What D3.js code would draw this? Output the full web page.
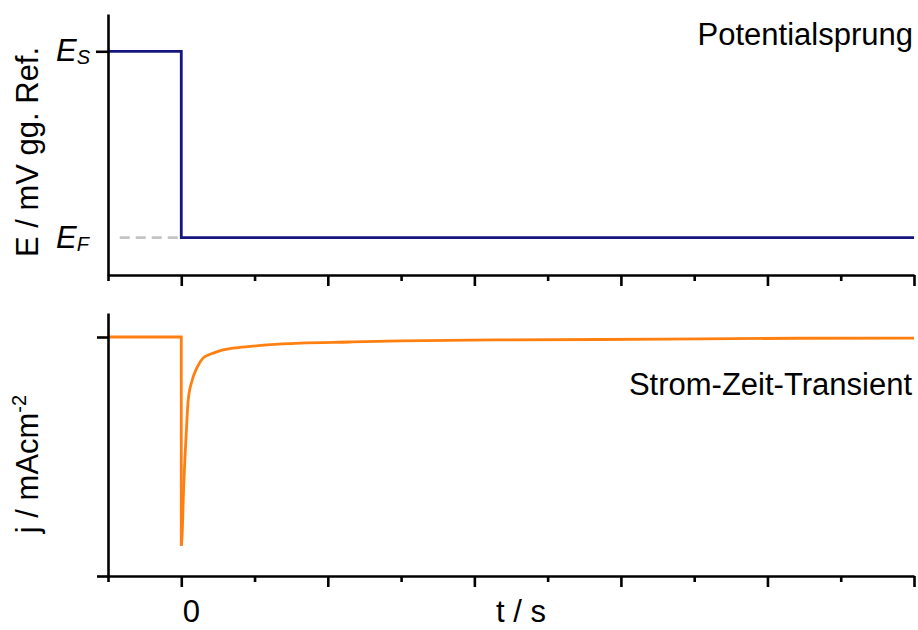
<!DOCTYPE html>
<html>
<head>
<meta charset="utf-8">
<script src="https://cdn.jsdelivr.net/npm/d3@7"></script>
<style>
  html, body { margin: 0; padding: 0; background: #fff; }
  svg { display: block; font-family: "Liberation Sans", Arial, sans-serif; }
</style>
</head>
<body>
<svg id="chart" width="918" height="630"></svg>
<script>
// Time axis (s)
const timeDomain = [-1, 10];
const majorTicks = [0, 2, 4, 6, 8, 10];
const minorTicks = [-1, 1, 3, 5, 7, 9];
const timeLabels = [{ t: 0, text: "0" }];

// Potential step (arbitrary units: E_F = 0, E_S = 1)
const potentialLevels = { ES: 1, EF: 0 };
const potentialDomain = [-0.2, 1.2];
const potentialT = [-1, 0, 0, 10];
const potentialE = [1, 1, 0, 0];
const guideT = [-0.84, 0];

// Current transient (normalised to the peak)
const currentDomain = [-1.145, 0.115];
const currentTicks = [0, -1.145];
const preStepT = [-1, 0, 0];
const preStepJ = [0, 0, -1];
const transientT = [0, 0.0136, 0.027, 0.068, 0.095, 0.15, 0.218, 0.30, 0.37, 0.437, 0.57, 0.71, 0.94, 1.17, 1.62, 2.3, 2.99, 4.35, 5.72, 7.08, 8.44, 10];
const transientJ = [-1, -0.938, -0.78, -0.459, -0.301, -0.206, -0.144, -0.100, -0.086, -0.077, -0.062, -0.053, -0.045, -0.038, -0.029, -0.024, -0.019, -0.014, -0.012, -0.009, -0.006, -0.005];

const svg = d3.select("#chart");
const AX = 2.6;
const LW = 2.8;
const FONT = 31;

const x = d3.scaleLinear().domain(timeDomain).range([108, 914]);
const yE = d3.scaleLinear().domain(potentialDomain).range([275, 14]);
const yJ = d3.scaleLinear().domain(currentDomain).range([576, 313]);

function styleAxis(g) {
  g.selectAll("path.domain").attr("stroke", "#000").attr("stroke-width", AX);
  g.selectAll(".tick line").attr("stroke", "#000").attr("stroke-width", AX);
  g.selectAll(".tick text").remove();
}

function timeAxes(yPos) {
  svg.append("g").attr("transform", `translate(0,${yPos})`)
    .call(d3.axisBottom(x).tickValues(minorTicks).tickSize(6).tickSizeOuter(0).tickFormat(""))
    .call(styleAxis);
  svg.append("g").attr("transform", `translate(0,${yPos})`)
    .call(d3.axisBottom(x).tickValues(majorTicks).tickSize(11).tickSizeOuter(0).tickFormat(""))
    .call(g => g.select("path.domain").remove())
    .call(styleAxis);
}

// ---- Top panel: potential step ----
svg.append("line")
  .attr("x1", x(guideT[0])).attr("x2", x(guideT[1]))
  .attr("y1", yE(potentialLevels.EF)).attr("y2", yE(potentialLevels.EF))
  .attr("stroke", "#c4c4c4").attr("stroke-width", LW)
  .attr("stroke-dasharray", "10,6");

const potLine = d3.line().x(d => x(d[0])).y(d => yE(d[1]));
svg.append("path")
  .datum(potentialT.map((t, i) => [t, potentialE[i]]))
  .attr("d", potLine)
  .attr("fill", "none").attr("stroke", "#161680").attr("stroke-width", LW);

svg.append("g").attr("transform", "translate(108,0)")
  .call(d3.axisLeft(yE).tickValues([potentialLevels.ES]).tickSize(12).tickSizeOuter(0).tickFormat(""))
  .call(styleAxis);
timeAxes(275);

function levelLabel(sub, value) {
  const t = svg.append("text")
    .attr("x", 56).attr("y", yE(value) + 10)
    .attr("font-size", FONT).attr("font-style", "italic").attr("fill", "#000");
  t.append("tspan").text("E");
  t.append("tspan").attr("font-size", 20).attr("dy", 3).text(sub);
}
levelLabel("S", potentialLevels.ES);
levelLabel("F", potentialLevels.EF);

svg.append("text")
  .attr("transform", "translate(38,152) rotate(-90)")
  .attr("text-anchor", "middle").attr("font-size", FONT)
  .text("E / mV gg. Ref.");

svg.append("text")
  .attr("x", 913).attr("y", 45).attr("text-anchor", "end")
  .attr("font-size", FONT).text("Potentialsprung");

// ---- Bottom panel: current transient ----
const jLine = d3.line().x(d => x(d[0])).y(d => yJ(d[1]));
svg.append("path")
  .datum(preStepT.map((t, i) => [t, preStepJ[i]]))
  .attr("d", jLine)
  .attr("fill", "none").attr("stroke", "#ff8011").attr("stroke-width", LW)
  .attr("stroke-linejoin", "miter");
svg.append("path")
  .datum(transientT.map((t, i) => [t, transientJ[i]]))
  .attr("d", jLine.curve(d3.curveMonotoneX))
  .attr("fill", "none").attr("stroke", "#ff8011").attr("stroke-width", LW);

svg.append("g").attr("transform", "translate(108,0)")
  .call(d3.axisLeft(yJ).tickValues(currentTicks).tickSize(11).tickSizeOuter(0).tickFormat(""))
  .call(styleAxis);
timeAxes(576);

const jLabel = svg.append("text")
  .attr("transform", "translate(38,464) rotate(-90)")
  .attr("text-anchor", "middle").attr("font-size", FONT);
jLabel.append("tspan").text("j / mAcm");
jLabel.append("tspan").attr("font-size", 20).attr("dy", -12).text("-2");

svg.append("text")
  .attr("x", 912).attr("y", 395).attr("text-anchor", "end")
  .attr("font-size", FONT).text("Strom-Zeit-Transient");

// Time axis labels
svg.selectAll("text.tlabel").data(timeLabels).enter().append("text")
  .attr("class", "tlabel")
  .attr("x", d => x(d.t) + 10).attr("y", 622)
  .attr("text-anchor", "middle").attr("font-size", FONT)
  .text(d => d.text);

svg.append("text")
  .attr("x", 521).attr("y", 622).attr("text-anchor", "middle")
  .attr("font-size", FONT).text("t / s");
</script>
</body>
</html>
